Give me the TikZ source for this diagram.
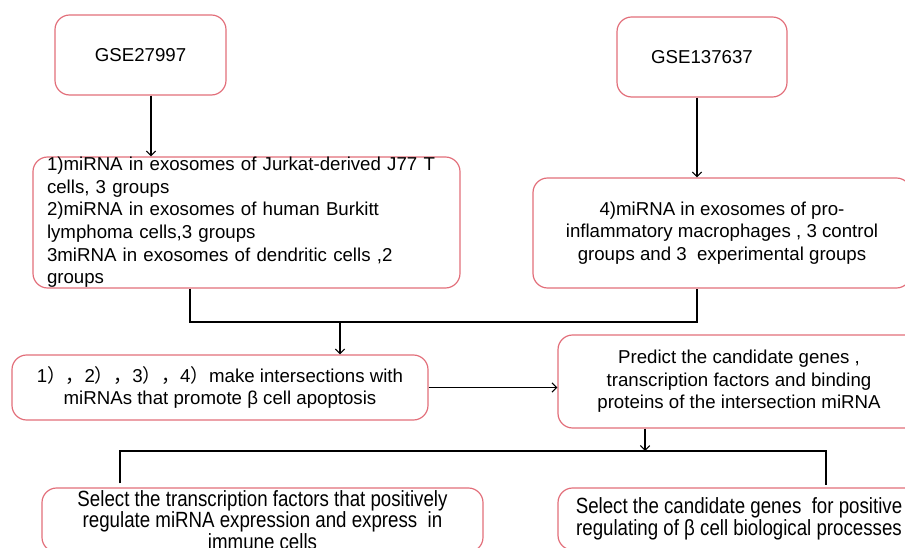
\documentclass[tikz,border=0pt]{standalone}
\usepackage{fontspec}
\setmainfont{Liberation Sans}
\newfontfamily\cjk{Noto Sans CJK SC}
\usetikzlibrary{arrows.meta,calc}
\definecolor{boxred}{RGB}{226,110,122}
\newcommand{\narrowtext}[1]{\scalebox{0.85}[1]{#1}}

\begin{document}
\begin{tikzpicture}[x=0.75pt,y=-0.75pt,
	font=\fontsize{14}{17}\selectfont,
	stepbox/.style={draw=boxred,line width=0.9pt,rounded corners=11pt,align=center,inner sep=0pt},
	narrowbox/.style={stepbox,font=\fontsize{16.5}{16.3}\selectfont},
	arr/.style={line width=0.8pt,-{Straight Barb[length=3.5pt,width=7pt]}},
	link/.style={line width=1.2pt}]
	\useasboundingbox (0,0) rectangle (905,548);

	\node [stepbox,minimum width=128.25pt,minimum height=60pt] (gseA) at (140.5,55) {GSE27997};
	\node [stepbox,minimum width=127.5pt,minimum height=60pt] (gseB) at (702,57) {GSE137637};

	\node [stepbox,align=left,text width=299.25pt,inner xsep=10.5pt,minimum height=98.25pt] (exoA) at (246.5,222.5)
	{1)miRNA in exosomes of Jurkat-derived J77 T\\cells, 3 groups\\2)miRNA in exosomes of human Burkitt\\lymphoma cells,3 groups\\3miRNA in exosomes of dendritic cells ,2\\groups};
	\node [stepbox,minimum width=283.5pt,minimum height=82.5pt] (exoB) at (722,233)
	{4)miRNA in exosomes of pro-\\inflammatory macrophages , 3 control\\groups and 3 \ experimental groups};

	\node [stepbox,minimum width=312pt,minimum height=48.75pt] (isect) at (220,387.5)
	{1{\cjk ），}2{\cjk ），}3{\cjk ），}4{\cjk ）}make intersections with\\miRNAs that promote β cell apoptosis};
	\node [stepbox,minimum width=271.5pt,minimum height=69.75pt] (pred) at (739,381.5)
	{Predict the candidate genes ,\\transcription factors and binding\\proteins of the intersection miRNA};

	\node [narrowbox,minimum width=330.75pt,minimum height=48pt] (tf) at (262.5,520)
	{\narrowtext{Select the transcription factors that positively}\\\narrowtext{regulate miRNA expression and express \ in}\\\narrowtext{immune cells}};
	\node [narrowbox,minimum width=271.5pt,minimum height=46.5pt] (cand) at (739,519)
	{\narrowtext{Select the candidate genes \ for positive}\\\narrowtext{regulating of β cell biological processes}};

	\draw [arr] ($(gseA.south)+(10.5,0)$) coordinate (a1) -- (a1 |- exoA.north);
	\draw [arr] ($(gseB.south)+(-5,0)$) coordinate (a2) -- (a2 |- exoB.north);

	\coordinate (bar1) at (340,322);
	\draw [link] ($(exoA.south)+(-56.5,0)$) |- (bar1) -| ($(exoB.south)+(-25,0)$);
	\draw [arr] (bar1) -- (bar1 |- isect.north);

	\draw [arr] (isect.east) -- (isect.east -| pred.west);

	\coordinate (bar2) at (645,451);
	\draw [arr] (pred.south -| bar2) -- (bar2);
	\draw [link] ($(tf.north)+(-142.5,-4)$) |- (bar2) -| ($(cand.north)+(87,-2)$);
\end{tikzpicture}
\end{document}
